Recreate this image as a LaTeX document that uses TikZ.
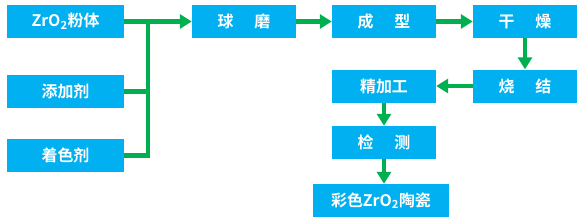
\documentclass[tikz,border=0pt]{standalone}
\usepackage{fontspec}
\newfontfamily\cjk{Noto Sans CJK SC}[BoldFont={Noto Sans CJK SC Bold}]
\usepackage{tikz}
\usetikzlibrary{arrows.meta,positioning}
\definecolor{boxblue}{RGB}{0,176,240}
\definecolor{flowgreen}{RGB}{0,176,80}

\tikzset{
  procbox/.style={fill=boxblue, text=white, font=\cjk\bfseries\fontsize{16}{19}\selectfont,
    minimum width=104bp, minimum height=33bp, inner sep=0pt},
  flow/.style={draw=flowgreen, line width=4.5bp, -{Triangle[length=12bp,width=14bp]}},
  link/.style={draw=flowgreen, line width=4.5bp},
}
\newcommand{\gap}{\hspace{1.3em}}

\begin{document}
\begin{tikzpicture}[x=1bp, y=-1bp]
    \useasboundingbox (0,0) rectangle (583,220);
    % raw materials
    \node[procbox, minimum width=117bp] (zro) at (65.5,21.5) {ZrO\textsubscript{2}粉体};
    \node[procbox, minimum width=117bp] (additive) at (65.5,91.5) {添加剂};
    \node[procbox, minimum width=117bp] (pigment) at (65.5,155.5) {着色剂};
    % process chain
    \node[procbox] (milling) at (244,21.5) {球\gap 磨};
    \node[procbox] (forming) at (384,21.5) {成\gap 型};
    \node[procbox] (drying) at (525,21.5) {干\gap 燥};
    \node[procbox] (sinter) at (525,86) {烧\gap 结};
    \node[procbox] (finish) at (384,86) {精加工};
    \node[procbox] (inspect) at (384,142.5) {检\gap 测};
    \node[procbox, minimum width=136bp] (product) at (381,200.5) {彩色ZrO\textsubscript{2}陶瓷};
    \coordinate (junc) at (148,21.5);

    \draw[flow] (zro.east) -- (milling.west);
    \draw[link] (additive.east) -- (additive.east -| junc);
    \draw[link, line join=miter] (pigment.east) -| (junc);
    \draw[flow] (milling.east) -- (forming.west);
    \draw[flow] (forming.east) -- (drying.west);
    \draw[flow] (drying.south) -- (sinter.north);
    \draw[flow] (sinter.west) -- (finish.east);
    \draw[flow] (finish.south) -- (inspect.north);
    \draw[flow] (inspect.south) -- (inspect.south |- product.north);
\end{tikzpicture}
\end{document}
